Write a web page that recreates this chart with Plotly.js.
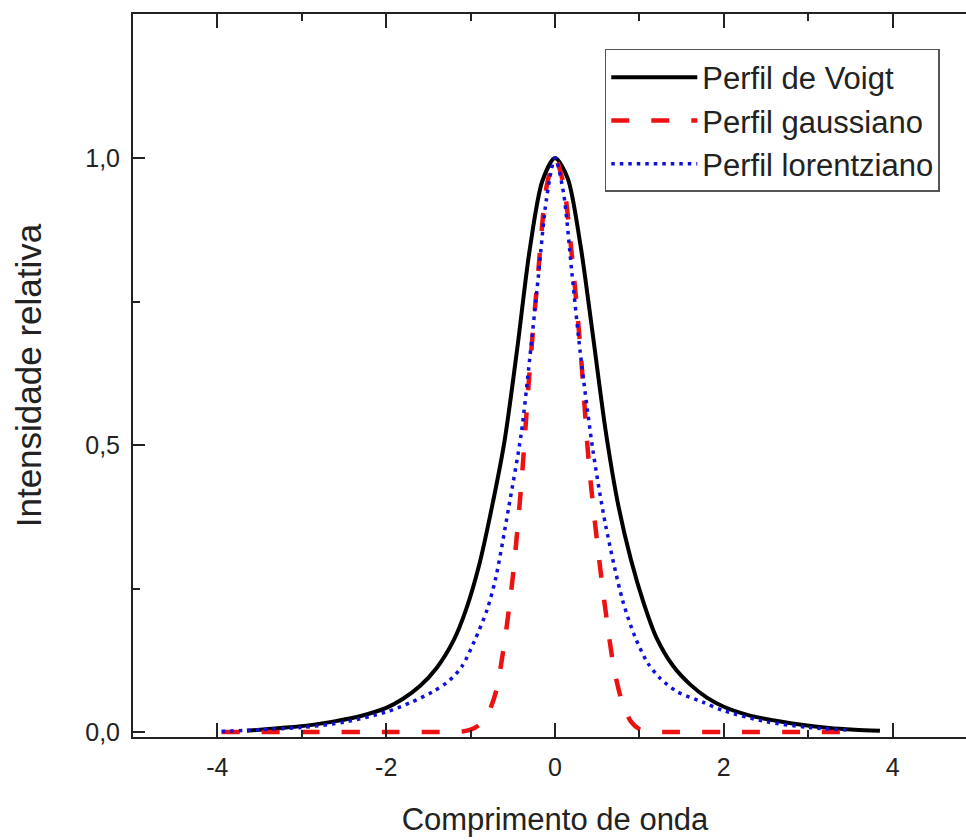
<!DOCTYPE html>
<html>
<head>
<meta charset="utf-8">
<script src="https://cdn.plot.ly/plotly-3.0.1.min.js"></script>
<style>
html, body { margin: 0; padding: 0; overflow: hidden; background: #fff; }
#chart { width: 990px; height: 840px; }
</style>
</head>
<body>
<div id="chart"></div>
<script>
// Voigt profile (black solid)
const voigtX = [-3.65, -3.25, -2.9, -2.6, -2.3, -2.0, -1.8, -1.6, -1.4, -1.2, -1.05, -0.9, -0.75, -0.6, -0.45, -0.3, -0.15, 0,
                0.15, 0.3, 0.45, 0.6, 0.75, 0.9, 1.05, 1.2, 1.4, 1.6, 1.8, 2.0, 2.3, 2.6, 2.9, 3.25, 3.55, 3.85];
const voigtY = [0.002, 0.007, 0.012, 0.019, 0.028, 0.042, 0.058, 0.080, 0.112, 0.160, 0.215, 0.290, 0.390, 0.505, 0.665, 0.840, 0.960, 1.000,
                0.965, 0.850, 0.690, 0.525, 0.395, 0.300, 0.225, 0.165, 0.115, 0.083, 0.060, 0.044, 0.029, 0.020, 0.013, 0.007, 0.004, 0.002];

// Gaussian profile (red dashed)
const gaussX = [-3.95, -3.0, -2.0, -1.3, -1.1, -1.0, -0.9, -0.8, -0.7, -0.6, -0.5, -0.4, -0.3, -0.2, -0.1, 0,
                0.1, 0.2, 0.3, 0.4, 0.5, 0.6, 0.7, 0.8, 0.9, 1.0, 1.1, 1.3, 2.0, 3.0, 3.5];
const gaussY = [0, 0, 0, 0, 0.001, 0.004, 0.012, 0.030, 0.070, 0.155, 0.270, 0.430, 0.630, 0.800, 0.950, 1.000,
                0.955, 0.830, 0.670, 0.470, 0.330, 0.210, 0.110, 0.050, 0.018, 0.005, 0.001, 0, 0, 0, 0];

// Lorentzian profile (blue dotted)
const lorX = [-3.95, -3.5, -3.0, -2.5, -2.0, -1.7, -1.45, -1.25, -1.1, -0.95, -0.8, -0.7, -0.55, -0.4, -0.3, -0.2, -0.1, 0,
              0.1, 0.2, 0.3, 0.45, 0.6, 0.8, 0.95, 1.1, 1.25, 1.45, 1.75, 2.0, 2.5, 3.0, 3.5];
const lorY = [0.001, 0.004, 0.008, 0.017, 0.035, 0.052, 0.070, 0.090, 0.115, 0.160, 0.215, 0.270, 0.390, 0.520, 0.650, 0.790, 0.930, 1.000,
              0.940, 0.800, 0.660, 0.490, 0.360, 0.230, 0.165, 0.120, 0.093, 0.070, 0.052, 0.037, 0.018, 0.008, 0.003];

const seriesNames = ['Perfil de Voigt', 'Perfil gaussiano', 'Perfil lorentziano'];
const xTickVals = [-4, -2, 0, 2, 4];
const xTickText = ['-4', '-2', '0', '2', '4'];
const yTickVals = [0, 0.5, 1.0];
const yTickText = ['0,0', '0,5', '1,0'];
const xTitle = 'Comprimento de onda';
const yTitle = 'Intensidade relativa';

const FONT = 'Liberation Sans, Arial, sans-serif';

const traces = [
  { x: voigtX, y: voigtY, name: seriesNames[0], mode: 'lines',
    line: { color: '#000000', width: 4, shape: 'spline', smoothing: 0.8 } },
  { x: gaussX, y: gaussY, name: seriesNames[1], mode: 'lines',
    line: { color: '#ee1111', width: 4.5, dash: '16px,12px', shape: 'spline', smoothing: 0.8 } },
  { x: lorX, y: lorY, name: seriesNames[2], mode: 'lines',
    line: { color: '#1010dd', width: 3.5, dash: '3.5px,5px', shape: 'spline', smoothing: 0.8 } }
];
// main curve dash for gaussian in plot uses longer period like the reference
traces[1].line.dash = '18px,22px';

const axisCommon = {
  showline: true, linecolor: '#222', linewidth: 2,
  ticks: 'inside', tickcolor: '#222', tickwidth: 2,
  showgrid: false, zeroline: false,
  tickfont: { family: FONT, size: 25, color: '#222' }
};

const layout = {
  width: 990, height: 840,
  margin: { l: 133, r: 13, t: 14, b: 103 },
  paper_bgcolor: '#fff', plot_bgcolor: '#fff',
  font: { family: FONT, color: '#222' },
  showlegend: true,
  legend: {
    x: 0.559, y: 0.9516, xanchor: 'left', yanchor: 'top',
    bordercolor: '#555', borderwidth: 1.5, bgcolor: '#fff',
    font: { family: FONT, size: 31, color: '#222' },
    itemwidth: 86, tracegroupgap: 0
  },
  xaxis: Object.assign({}, axisCommon, {
    range: [-5, 5], tickmode: 'array', tickvals: xTickVals, ticktext: xTickText,
    mirror: 'ticks',
    ticklen: 14, ticklabelstandoff: 7,
    minor: { tickmode: 'linear', tick0: -5, dtick: 1, ticklen: 7, ticks: 'inside', tickcolor: '#222', tickwidth: 2 },
    title: { text: xTitle, font: { family: FONT, size: 31, color: '#222' }, standoff: 28 },
    automargin: false
  }),
  yaxis: Object.assign({}, axisCommon, {
    range: [-0.0087, 1.251], tickmode: 'array', tickvals: yTickVals, ticktext: yTickText,
    mirror: false,
    ticklen: 12, ticklabelstandoff: 6,
    minor: { tickmode: 'linear', tick0: 0, dtick: 0.25, ticklen: 7, ticks: 'inside', tickcolor: '#222', tickwidth: 2 },
    title: { text: yTitle, font: { family: FONT, size: 35, color: '#222' }, standoff: 33 },
    automargin: false
  })
};

Plotly.newPlot('chart', traces, layout, { displayModeBar: false, staticPlot: true });
</script>
</body>
</html>
